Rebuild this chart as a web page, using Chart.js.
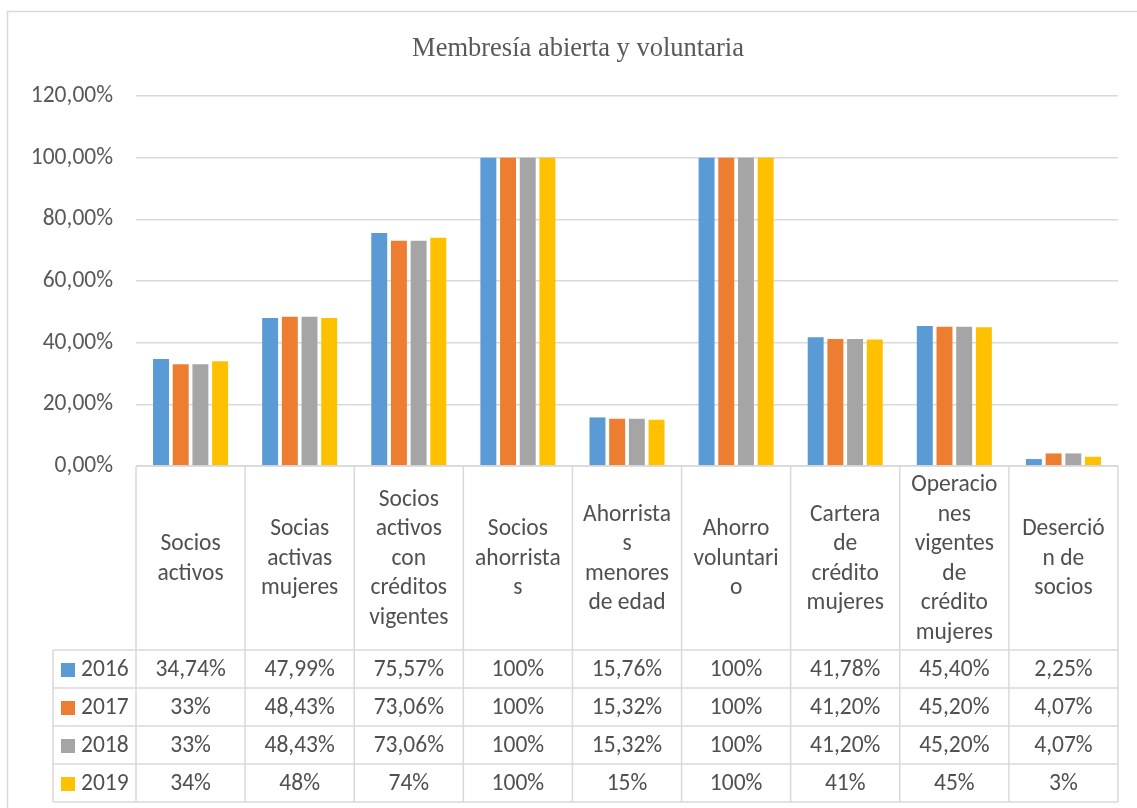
<!DOCTYPE html>
<html>
<head>
<meta charset="utf-8">
<script src="https://cdn.jsdelivr.net/npm/chart.js"></script>
<style>
html, body { margin: 0; padding: 0; background: #fff; }
#wrap { width: 1137px; height: 808px; }
</style>
</head>
<body>
<div id="wrap"><canvas id="c" width="1137" height="808"></canvas></div>
<script>
// datos del gráfico
const chartTitle = 'Membresía abierta y voluntaria';
const categories = [
	['Socios', 'activos'],
	['Socias', 'activas', 'mujeres'],
	['Socios', 'activos', 'con', 'créditos', 'vigentes'],
	['Socios', 'ahorrista', 's'],
	['Ahorrista', 's', 'menores', 'de edad'],
	['Ahorro', 'voluntari', 'o'],
	['Cartera', 'de', 'crédito', 'mujeres'],
	['Operacio', 'nes', 'vigentes', 'de', 'crédito', 'mujeres'],
	['Deserció', 'n de', 'socios']
];
const years = ['2016', '2017', '2018', '2019'];
const v2016 = [34.74, 47.99, 75.57, 100, 15.76, 100, 41.78, 45.40, 2.25];
const v2017 = [33, 48.43, 73.06, 100, 15.32, 100, 41.20, 45.20, 4.07];
const v2018 = [33, 48.43, 73.06, 100, 15.32, 100, 41.20, 45.20, 4.07];
const v2019 = [34, 48, 74, 100, 15, 100, 41, 45, 3];
const yMax = 120;
const yStep = 20;

const colors = ['#5B9BD5', '#ED7D31', '#A5A5A5', '#FFC000'];
const FONT = 'Carlito, Calibri, Lato, sans-serif';
const TXT = '#505050';
const LINE = '#D9D9D9';

function fmtPct(v){ // 33 -> "33%", 41.2 -> "41,20%"
	if (Number.isInteger(v)) return v + '%';
	return v.toFixed(2).replace('.', ',') + '%';
}

// tabla de datos bajo el eje (estilo Excel)
const dataTable = {
	id: 'dataTable',
	afterDraw(chart){
		const ctx = chart.ctx;
		const a = chart.chartArea;
		const xs = chart.scales.x;
		const n = categories.length;
		const colW = (a.right - a.left) / n;
		const top = a.bottom;
		const headBottom = top + 184;
		const rowH = 38;
		const legLeft = 53;
		const tblBottom = headBottom + rowH * years.length;

		ctx.save();
		// marco exterior
		ctx.strokeStyle = LINE;
		ctx.lineWidth = 1.5;
		ctx.beginPath();
		ctx.moveTo(7.5, 808); ctx.lineTo(7.5, 11.5); ctx.lineTo(1137, 11.5);
		ctx.stroke();

		// título
		ctx.fillStyle = '#595959';
		ctx.font = '26.5px "Liberation Serif", "Times New Roman", serif';
		ctx.textAlign = 'center';
		ctx.textBaseline = 'middle';
		ctx.fillText(chartTitle, 578, 49);

		// líneas de la tabla
		ctx.strokeStyle = LINE;
		ctx.lineWidth = 1.5;
		ctx.beginPath();
		ctx.moveTo(a.left, top); ctx.lineTo(a.right, top);
		for (let r = 0; r <= years.length; r++){
			const y = headBottom + r * rowH;
			ctx.moveTo(legLeft, y); ctx.lineTo(a.right, y);
		}
		for (let i = 0; i <= n; i++){
			const x = a.left + i * colW;
			ctx.moveTo(x, top); ctx.lineTo(x, tblBottom);
		}
		ctx.moveTo(legLeft, headBottom); ctx.lineTo(legLeft, tblBottom);
		ctx.stroke();

		// encabezados de categoría
		ctx.fillStyle = TXT;
		ctx.font = '23.5px ' + FONT;
		const lh = 29.5;
		const midH = (top + headBottom) / 2;
		categories.forEach((lines, i) => {
			const cx = xs.getPixelForValue(i);
			const y0 = midH - (lines.length - 1) * lh / 2;
			lines.forEach((t, k) => ctx.fillText(t, cx, y0 + k * lh + 1));
		});

		// filas de valores con leyenda
		chart.data.datasets.forEach((ds, r) => {
			const cy = headBottom + r * rowH + rowH / 2 + 1;
			ctx.fillStyle = ds.backgroundColor;
			ctx.fillRect(61, cy - 7, 14, 14);
			ctx.fillStyle = TXT;
			ctx.textAlign = 'left';
			ctx.fillText(ds.label, 81, cy);
			ctx.textAlign = 'center';
			ds.data.forEach((v, i) => {
				ctx.fillText(fmtPct(v), xs.getPixelForValue(i), cy);
			});
		});
		ctx.restore();
	}
};

new Chart(document.getElementById('c'), {
	type: 'bar',
	data: {
		labels: categories.map(l => l.join(' ')),
		datasets: [v2016, v2017, v2018, v2019].map((d, i) => ({
			label: years[i],
			data: d,
			backgroundColor: colors[i],
			categoryPercentage: 0.722,
			barPercentage: 0.81
		}))
	},
	options: {
		responsive: false,
		animation: false,
		devicePixelRatio: 1,
		layout: { padding: { left: 0, top: 96, right: 19, bottom: 342 } },
		plugins: {
			legend: { display: false },
			title: { display: false },
			tooltip: { enabled: false }
		},
		scales: {
			x: { display: false },
			y: {
				min: 0,
				max: yMax,
				afterFit(s){ s.width = 136; },
				border: { display: false },
				grid: { color: LINE, lineWidth: 1.5, drawTicks: false },
				ticks: {
					stepSize: yStep,
					padding: 23,
					color: '#595959',
					font: { family: FONT, size: 23.5 },
					callback: v => v.toFixed(2).replace('.', ',') + '%'
				}
			}
		}
	},
	plugins: [dataTable]
});
</script>
</body>
</html>
